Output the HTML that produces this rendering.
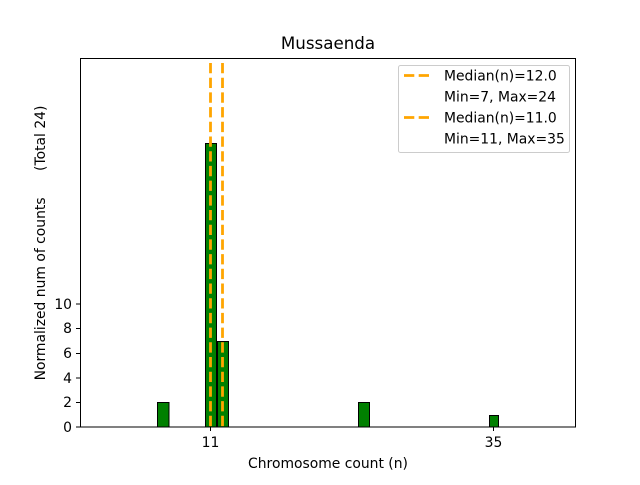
<!DOCTYPE html>
<html><head><meta charset="utf-8"><style>
body{margin:0;background:#fff;}
svg text{font-family:"DejaVu Sans","Liberation Sans",sans-serif;fill:#000;}
</style></head><body>
<svg width="640" height="480" viewBox="0 0 640 480" xmlns="http://www.w3.org/2000/svg">
<rect width="640" height="480" fill="#fff"/>
<rect x="157.5" y="402.5" width="11.5" height="24.5" fill="#008000" stroke="#000" stroke-width="1"/>
<rect x="205.5" y="143.5" width="11" height="283.5" fill="#008000" stroke="#000" stroke-width="1"/>
<rect x="217.5" y="341.5" width="11" height="85.5" fill="#008000" stroke="#000" stroke-width="1"/>
<rect x="358.5" y="402.5" width="11" height="24.5" fill="#008000" stroke="#000" stroke-width="1"/>
<rect x="489.5" y="415.5" width="9" height="11.5" fill="#008000" stroke="#000" stroke-width="1"/>
<line x1="370" y1="427" x2="405" y2="427" stroke="#aaa" stroke-width="1"/>
<line x1="210.5" y1="63" x2="210.5" y2="427" stroke="#FFA500" stroke-width="2.8" stroke-dasharray="10.3,4.4"/>
<line x1="222.5" y1="63" x2="222.5" y2="427" stroke="#FFA500" stroke-width="2.8" stroke-dasharray="10.3,4.4"/>
<rect x="80.5" y="58.5" width="495" height="368.5" fill="none" stroke="#000" stroke-width="1"/>
<g stroke="#000" stroke-width="1">
<line x1="76" y1="427" x2="80" y2="427"/><line x1="76" y1="402.5" x2="80" y2="402.5"/>
<line x1="76" y1="378" x2="80" y2="378"/><line x1="76" y1="353.5" x2="80" y2="353.5"/>
<line x1="76" y1="328.5" x2="80" y2="328.5"/><line x1="76" y1="304" x2="80" y2="304"/>
<line x1="210.5" y1="427" x2="210.5" y2="431"/><line x1="493.5" y1="427" x2="493.5" y2="431"/>
</g>
<g font-size="13.9" text-anchor="end">
<text x="72" y="432">0</text><text x="72" y="407">2</text><text x="72" y="383">4</text>
<text x="72" y="358">6</text><text x="72" y="333">8</text><text x="72" y="309">10</text>
</g>
<g font-size="13.9" text-anchor="middle">
<text x="210.5" y="447">11</text><text x="493.5" y="447">35</text>
<text x="328" y="468">Chromosome count (n)</text>
</g>
<text x="328" y="49" font-size="16.7" text-anchor="middle">Mussaenda</text>
<text transform="translate(45,243) rotate(-90)" font-size="13.9" text-anchor="middle" xml:space="preserve" style="white-space:pre">Normalized num of counts      (Total 24)</text>
<rect x="398.5" y="65.5" width="171" height="87" rx="2" fill="#fff" fill-opacity="0.8" stroke="#ccc" stroke-width="1"/>
<line x1="404" y1="75.5" x2="432" y2="75.5" stroke="#FFA500" stroke-width="2.8" stroke-dasharray="10.3,4.4"/>
<line x1="404" y1="117.5" x2="432" y2="117.5" stroke="#FFA500" stroke-width="2.8" stroke-dasharray="10.3,4.4"/>
<g font-size="13.9">
<text x="444" y="80.5">Median(n)=12.0</text>
<text x="444" y="101.5">Min=7, Max=24</text>
<text x="444" y="122.5">Median(n)=11.0</text>
<text x="444" y="143.5">Min=11, Max=35</text>
</g>
</svg>
</body></html>
